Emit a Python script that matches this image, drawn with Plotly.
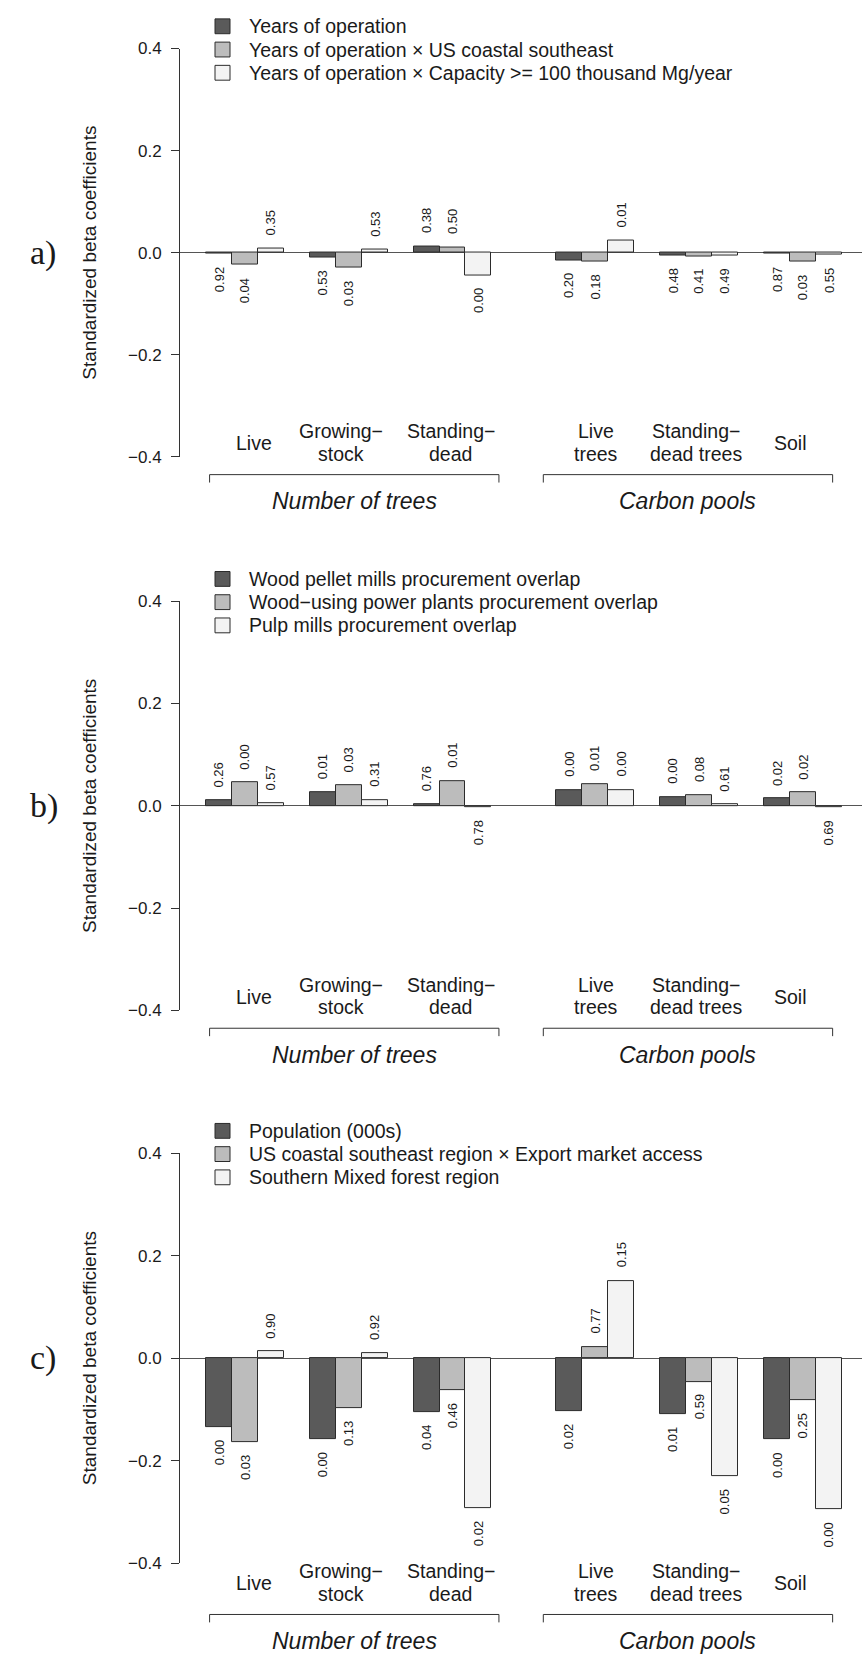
import plotly.graph_objects as go

# ---------------- data ----------------
category_lines = [["Live"], ["Growing−", "stock"], ["Standing−", "dead"],
                  ["Live", "trees"], ["Standing−", "dead trees"], ["Soil"]]
group_titles = ["Number of trees", "Carbon pools"]
panel_letters = ["a)", "b)", "c)"]
tick_values = [-0.4, -0.2, 0.0, 0.2, 0.4]

names_a = ["Years of operation",
           "Years of operation × US coastal southeast",
           "Years of operation × Capacity >= 100 thousand Mg/year"]
beta_a_1 = [-0.002, -0.009, 0.013, -0.015, -0.006, -0.002]
beta_a_2 = [-0.024, -0.030, 0.011, -0.018, -0.007, -0.018]
beta_a_3 = [0.009, 0.006, -0.044, 0.023, -0.005, -0.004]
p_a_1 = [0.92, 0.53, 0.38, 0.20, 0.48, 0.87]
p_a_2 = [0.04, 0.03, 0.50, 0.18, 0.41, 0.03]
p_a_3 = [0.35, 0.53, 0.00, 0.01, 0.49, 0.55]

names_b = ["Wood pellet mills procurement overlap",
           "Wood−using power plants procurement overlap",
           "Pulp mills procurement overlap"]
beta_b_1 = [0.011, 0.027, 0.003, 0.031, 0.017, 0.014]
beta_b_2 = [0.046, 0.040, 0.049, 0.042, 0.020, 0.026]
beta_b_3 = [0.005, 0.012, -0.003, 0.031, 0.003, -0.003]
p_b_1 = [0.26, 0.01, 0.76, 0.00, 0.00, 0.02]
p_b_2 = [0.00, 0.03, 0.01, 0.01, 0.08, 0.02]
p_b_3 = [0.57, 0.31, 0.78, 0.00, 0.61, 0.69]

names_c = ["Population (000s)",
           "US coastal southeast region × Export market access",
           "Southern Mixed forest region"]
beta_c_1 = [-0.134, -0.158, -0.105, -0.104, -0.110, -0.159]
beta_c_2 = [-0.163, -0.097, -0.063, 0.022, -0.046, -0.082]
beta_c_3 = [0.013, 0.010, -0.293, 0.151, -0.230, -0.295]
p_c_1 = [0.00, 0.00, 0.04, 0.02, 0.01, 0.00]
p_c_2 = [0.03, 0.13, 0.46, 0.77, 0.59, 0.25]
p_c_3 = [0.90, 0.92, 0.02, 0.15, 0.05, 0.00]

# ---------------- layout constants ----------------
W, H = 862, 1666
AXIS_PX = 180
UNIT = 25.95
XMAX = (W - AXIS_PX) / UNIT
group_starts = [1, 5, 9, 14.5, 18.5, 22.5]
label_x = [2.85, 6.2, 10.43, 16.03, 19.88, 23.53]
brackets = [(1.14, 12.29), (14.0, 25.15)]
fills = ["#5a5a5a", "#bcbcbc", "#f3f3f3"]
EDGE = "#2b2b2b"
TXT = "#1a1a1a"
FONT = "Liberation Sans, Arial, sans-serif"

panels = [
    dict(names=names_a, betas=[beta_a_1, beta_a_2, beta_a_3], ps=[p_a_1, p_a_2, p_a_3],
         top=40, bottom=453, bracket=471),
    dict(names=names_b, betas=[beta_b_1, beta_b_2, beta_b_3], ps=[p_b_1, p_b_2, p_b_3],
         top=599, bottom=1013, bracket=1031),
    dict(names=names_c, betas=[beta_c_1, beta_c_2, beta_c_3], ps=[p_c_1, p_c_2, p_c_3],
         top=1157.3, bottom=1572, bracket=1624),
]


def py(p):
    return 1 - p / H


def px(p):
    return p / W


fig = go.Figure()
annotations = []
shapes = []
layout = dict(width=W, height=H, margin=dict(l=0, r=0, t=0, b=0),
              paper_bgcolor="white", plot_bgcolor="white", barmode="overlay",
              font=dict(family=FONT, color=TXT), bargap=0, showlegend=False)

for i, pan in enumerate(panels):
    sfx = "" if i == 0 else str(i + 1)
    xa, ya = "x" + sfx, "y" + sfx
    for k in range(3):
        xs = [g + k + 0.5 for g in group_starts]
        fig.add_trace(go.Bar(
            x=xs, y=pan["betas"][k], width=1, name=pan["names"][k],
            marker=dict(color=fills[k], line=dict(color=EDGE, width=1)),
            xaxis=xa, yaxis=ya, hoverinfo="skip"))
        for x, v, p in zip(xs, pan["betas"][k], pan["ps"][k]):
            annotations.append(dict(
                x=x, y=v, xref=xa, yref=ya, text=f"{p:.2f}", textangle=-90,
                showarrow=False, xanchor="center", yanchor="middle",
                yshift=25.5 if v >= 0 else -25.5,
                font=dict(size=13, family=FONT, color=TXT)))
    zero_px = (pan["top"] + pan["bottom"]) / 2
    layout["xaxis" + sfx] = dict(domain=[AXIS_PX / W, 1], range=[0, XMAX], visible=False,
                                 anchor=ya, fixedrange=True)
    layout["yaxis" + sfx] = dict(
        domain=[py(pan["bottom"]), py(pan["top"])], range=[-0.4, 0.4], anchor=xa,
        tickvals=tick_values, tickformat=".1f", ticks="outside", ticklen=8,
        tickcolor="#333", showline=True, linecolor="#333", linewidth=1,
        showgrid=False, zeroline=True, zerolinecolor="#555", zerolinewidth=1,
        tickfont=dict(size=17, family=FONT, color=TXT), ticklabelstandoff=6,
        fixedrange=True,
        title=dict(text="Standardized beta coefficients", standoff=26,
                   font=dict(size=19, family=FONT, color=TXT)))
    # manual legend (square swatch + text), rows from the series names
    for k, name in enumerate(pan["names"]):
        cy = pan["top"] - 22.5 + 23.5 * k
        shapes.append(dict(type="rect", xref="paper", yref="paper",
                           x0=px(215), x1=px(230), y0=py(cy + 7.5), y1=py(cy - 7.5),
                           fillcolor=fills[k], line=dict(color=EDGE, width=1)))
        annotations.append(dict(x=px(247), y=py(cy), xref="paper", yref="paper", text=name,
                                showarrow=False, xanchor="left", yanchor="middle",
                                font=dict(size=19.5, family=FONT, color=TXT)))
    # panel letter
    annotations.append(dict(x=px(28), y=py(zero_px), xref="paper", yref="paper",
                            text=panel_letters[i], showarrow=False,
                            xanchor="left", yanchor="middle",
                            font=dict(size=34, family="Liberation Serif, serif", color=TXT)))
    # category labels
    br = pan["bracket"]
    for lx, lines in zip(label_x, category_lines):
        ys = [br - 32] if len(lines) == 1 else [br - 44, br - 21]
        for t, yy in zip(lines, ys):
            annotations.append(dict(x=lx, y=py(yy), xref=xa, yref="paper", text=t,
                                    showarrow=False, xanchor="center", yanchor="middle",
                                    font=dict(size=19.5, family=FONT, color=TXT)))
    # brackets and group titles
    for (b0, b1), title in zip(brackets, group_titles):
        y0, y1 = py(br), py(br + 8)
        shapes.append(dict(type="path", xref=xa, yref="paper",
                           path=f"M {b0},{y1} L {b0},{y0} L {b1},{y0} L {b1},{y1}",
                           line=dict(color="#333", width=1)))
        annotations.append(dict(x=(b0 + b1) / 2, y=py(br + 27), xref=xa, yref="paper",
                                text=f"<i>{title}</i>", showarrow=False,
                                xanchor="center", yanchor="middle",
                                font=dict(size=23, family=FONT, color=TXT)))

layout["annotations"] = annotations
layout["shapes"] = shapes
fig.update_layout(**layout)
fig.write_html("out.html", config={"displayModeBar": False},
               post_script="document.body.style.margin='0';document.body.style.overflow='hidden';")
